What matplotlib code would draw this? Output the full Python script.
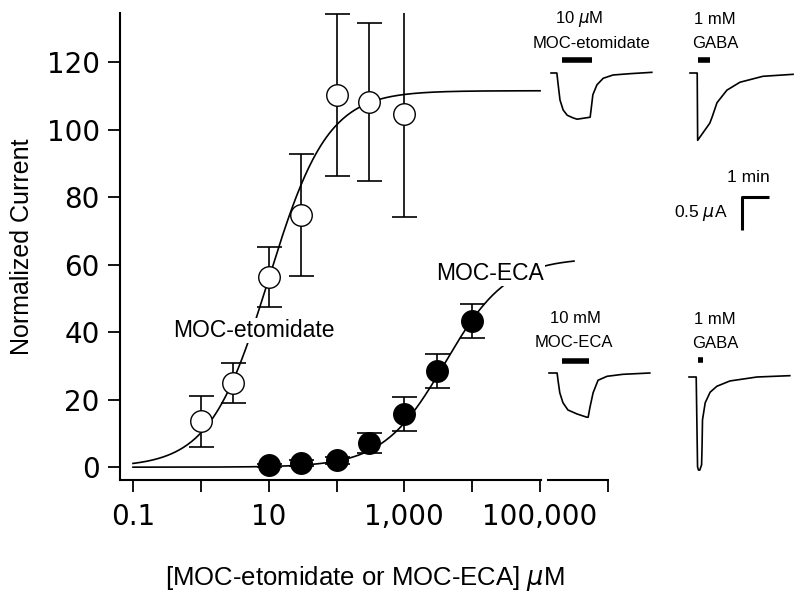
# Concentration-response for MOC-etomidate and MOC-ECA, with example current traces

import numpy as np
import matplotlib
matplotlib.use('Agg')
import matplotlib.pyplot as plt

plt.rcParams['font.family'] = ['Liberation Sans', 'DejaVu Sans']
plt.rcParams['mathtext.fontset'] = 'dejavusans'

# Data: mean normalized current +/- error
conc = [1, 3, 10, 30, 100, 300, 1000]
etom_mean = [13.6, 24.9, 56.3, 74.7, 110.2, 108.2, 104.6]
etom_err = [7.5, 6.0, 9.0, 18.0, 24.0, 23.5, 30.5]

eca_conc = [10, 30, 100, 300, 1000, 3000, 10000]
eca_mean = [0.5, 1.2, 2.0, 7.2, 15.8, 28.4, 43.3]
eca_err = [0.5, 0.8, 1.0, 3.0, 5.0, 5.0, 5.0]

# Hill fit parameters (max, EC50, slope)
etom_fit = (111.5, 10.0, 1.0)
eca_fit = (62.0, 4000.0, 0.95)

# Example traces (time in s, current in uA), drug bar (start, end) in s
tr1_t = [0, 13, 16, 20, 27, 36, 49, 58, 87, 89, 93, 102, 116, 138, 176, 224]
tr1_i = [0, 0, -0.18, -0.41, -0.56, -0.64, -0.68, -0.70, -0.67, -0.56, -0.33, -0.18, -0.08, -0.03, -0.01, 0.01]
tr1_bar = (24, 91)

tr2_t = [0, 16, 17, 44, 49, 60, 82, 111, 162, 229]
tr2_i = [0, 0, -1.02, -0.76, -0.67, -0.45, -0.26, -0.14, -0.05, -0.02]
tr2_bar = (18, 44)

tr3_t = [0, 18, 20, 24, 31, 42, 62, 84, 87, 91, 98, 109, 129, 164, 224]
tr3_i = [0, 0, -0.11, -0.30, -0.45, -0.56, -0.62, -0.67, -0.67, -0.52, -0.30, -0.11, -0.05, -0.02, 0]
tr3_bar = (29, 89)

tr4_t = [0, 16, 18, 19, 21, 24, 28, 29, 30, 36, 47, 62, 91, 151, 224]
tr4_i = [0, 0, -0.91, -1.36, -1.41, -1.41, -1.33, -1.06, -0.65, -0.39, -0.23, -0.14, -0.06, 0, 0.02]
tr4_bar = (20, 31)


def hill(x, p):
    top, ec50, n = p
    return top / (1 + (ec50 / x) ** n)


fig = plt.figure(figsize=(8, 5.95), dpi=100)
ax = fig.add_axes([0.15, 0.193, 0.611, 0.785])

# fitted curves
xe = np.logspace(-1, 5, 300)
xa = np.logspace(-1, 5.5, 300)
ax.plot(xe, hill(xe, etom_fit), color='black', lw=1.2, zorder=2)
ax.plot(xa, hill(xa, eca_fit), color='black', lw=1.2, zorder=2)

# points with error bars
ax.errorbar(conc, etom_mean, yerr=etom_err, fmt='none', ecolor='black',
            elinewidth=1.2, capsize=9, capthick=1.2, zorder=3)
ax.plot(conc, etom_mean, 'o', ms=15.5, mfc='white', mec='black', mew=1, zorder=4)
ax.errorbar(eca_conc, eca_mean, yerr=eca_err, fmt='none', ecolor='black',
            elinewidth=1.2, capsize=9, capthick=1.2, zorder=3)
ax.plot(eca_conc, eca_mean, 'o', ms=15.5, mfc='black', mec='black', mew=1, zorder=4)

ax.set_xscale('log')
ax.set_xlim(0.0644, 1.03e6)
ax.set_ylim(-3.85, 134.5)
ax.set_xticks([0.1, 1, 10, 100, 1000, 1e4, 1e5, 1e6])
ax.set_xticklabels(['0.1', '', '10', '', '1,000', '', '100,000', ''])
ax.xaxis.set_minor_locator(matplotlib.ticker.NullLocator())
ax.set_yticks([0, 20, 40, 60, 80, 100, 120])
ax.spines['top'].set_visible(False)
ax.spines['right'].set_visible(False)
for s in ['left', 'bottom']:
    ax.spines[s].set_linewidth(1.5)
# small break in the x axis just after 100,000
ax.spines['bottom'].set_bounds(0.0644, 1.03e5)
ax.plot([1.27e5, 1.03e6], [0, 0], transform=ax.get_xaxis_transform(),
        color='black', lw=1.5, clip_on=False, solid_capstyle='butt')
ax.tick_params(axis='both', length=8.5, width=1.3)
ax.tick_params(axis='x', pad=8)
ax.tick_params(axis='y', pad=6)
for lab in ax.get_xticklabels() + ax.get_yticklabels():
    lab.set_fontfamily('DejaVu Sans')
    lab.set_fontsize(20)

ax.set_xlabel(r'[MOC-etomidate or MOC-ECA] $\mu$M', fontsize=18.5, labelpad=24)
ax.set_ylabel('Normalized Current', fontsize=18, labelpad=9)

box = dict(facecolor='white', edgecolor='none', pad=1)
ax.text(0.387, 40.5, 'MOC-etomidate', fontsize=16.5, ha='left', va='center', bbox=box, zorder=5)
ax.text(2900, 57.5, 'MOC-ECA', fontsize=16.5, ha='left', va='center', bbox=box, zorder=5)

# example traces
S = 60 / 27.0   # s per pixel
U = 0.5 / 33.0  # uA per pixel


def trace_axes(x0, y0, t, i, bar, bar_y, lines, text_x, text_y):
    a = fig.add_axes([(x0 - 5) / 800, 1 - (y0 + 100) / 595, 120 / 800, 175 / 595])
    a.set_xlim(-5 * S, 115 * S)
    a.set_ylim(-100 * U, 75 * U)
    a.axis('off')
    a.plot(t, i, color='black', lw=1.2)
    a.plot(bar, [bar_y, bar_y], color='black', lw=4, solid_capstyle='butt')
    for k, s in enumerate(lines):
        a.text(text_x[k], text_y[k], s, fontsize=12, ha='center', va='center')
    return a


trace_axes(551, 73, tr1_t, tr1_i, tr1_bar, 13 * U, [r'10 $\mu$M', 'MOC-etomidate'],
           [62, 89], [54 * U, 30 * U])
trace_axes(690, 73, tr2_t, tr2_i, tr2_bar, 13 * U, ['1 mM', 'GABA'],
           [56, 56], [54 * U, 30 * U])
trace_axes(549, 373, tr3_t, tr3_i, tr3_bar, 12 * U, ['10 mM', 'MOC-ECA'],
           [58, 56], [54 * U, 30 * U])
trace_axes(689, 377, tr4_t, tr4_i, tr4_bar, 17 * U, ['1 mM', 'GABA'],
           [58, 58], [58 * U, 34 * U])

# scale bar: 1 min, 0.5 uA
sb = fig.add_axes([700 / 800, 1 - 250 / 595, 90 / 800, 90 / 595])
sb.set_xlim(-42 * S, 48 * S)
sb.set_ylim(-53 * U, 37 * U)
sb.axis('off')
sb.plot([60, 0, 0], [0, 0, -0.5], color='black', lw=2.2, solid_capstyle='butt')
sb.text(62, 19 * U, '1 min', fontsize=12.5, ha='right', va='center')
sb.text(-31, -16 * U, r'0.5 $\mu$A', fontsize=12.5, ha='right', va='center')

fig.savefig('out.png', dpi=100)
